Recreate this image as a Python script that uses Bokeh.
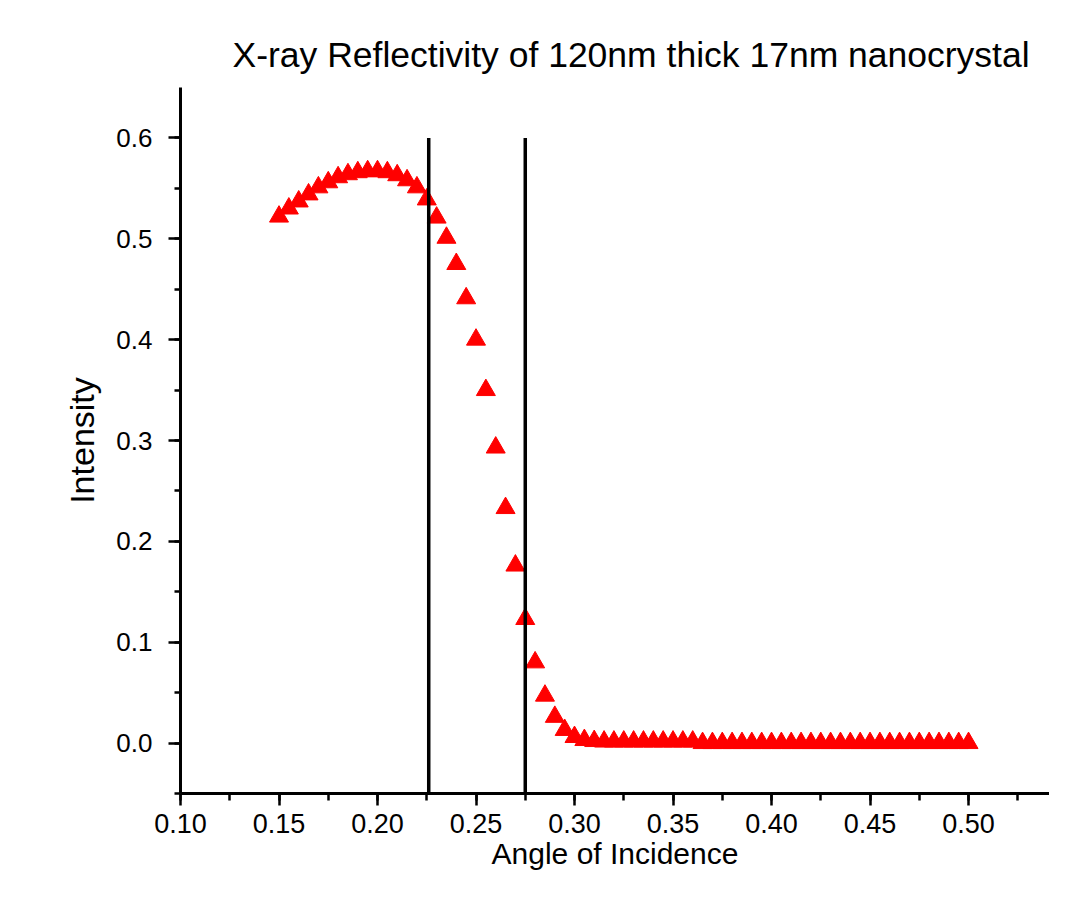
from bokeh.plotting import figure
from bokeh.models import SingleIntervalTicker, NumeralTickFormatter, ColumnDataSource
from bokeh.embed import file_html
from bokeh.resources import INLINE

title_text = "X-ray Reflectivity of 120nm thick 17nm nanocrystal"
x_label = "Angle of Incidence"
y_label = "Intensity"

angle = [
    0.150, 0.155, 0.160, 0.165, 0.170, 0.175, 0.180, 0.185, 0.190, 0.195,
    0.200, 0.205, 0.210, 0.215, 0.220, 0.225, 0.230, 0.235, 0.240, 0.245,
    0.250, 0.255, 0.260, 0.265, 0.270, 0.275, 0.280, 0.285, 0.290, 0.295,
    0.300, 0.305, 0.310, 0.315, 0.320, 0.325, 0.330, 0.335, 0.340, 0.345,
    0.350, 0.355, 0.360, 0.365, 0.370, 0.375, 0.380, 0.385, 0.390, 0.395,
    0.400, 0.405, 0.410, 0.415, 0.420, 0.425, 0.430, 0.435, 0.440, 0.445,
    0.450, 0.455, 0.460, 0.465, 0.470, 0.475, 0.480, 0.485, 0.490, 0.495,
    0.500,
]
intensity = [
    0.522, 0.530, 0.537, 0.544, 0.551, 0.556, 0.561, 0.564, 0.566, 0.567,
    0.567, 0.566, 0.563, 0.558, 0.551, 0.539, 0.521, 0.501, 0.475, 0.441,
    0.400, 0.350, 0.293, 0.233, 0.176, 0.123, 0.080, 0.047, 0.026, 0.013,
    0.006, 0.003, 0.002, 0.0015, 0.0015, 0.0015, 0.0015, 0.0015, 0.0015, 0.0015,
    0.0015, 0.0015, 0.0015, 0.0, 0.0, 0.0, 0.0, 0.0, 0.0, 0.0,
    0.0, 0.0, 0.0, 0.0, 0.0, 0.0, 0.0, 0.0, 0.0, 0.0,
    0.0, 0.0, 0.0, 0.0, 0.0, 0.0, 0.0, 0.0, 0.0, 0.0,
    0.0,
]
boundary_x = [0.226, 0.275]
boundary_top = [0.6, 0.6]
boundary_bottom = [-0.05, -0.05]

FONT = "Liberation Sans"

p = figure(
    width=1049, height=881,
    x_range=(0.1, 0.5411), y_range=(-0.05, 0.65),
    output_backend="svg", toolbar_location=None,
    min_border_left=180, min_border_right=0,
    min_border_top=87, min_border_bottom=88,
    title=title_text,
)
p.outline_line_color = None
p.grid.visible = False
p.background_fill_color = "white"
p.border_fill_color = "white"

p.title.text_font = FONT
p.title.text_font_size = "35.5px"
p.title.text_font_style = "normal"
p.title.text_color = "black"
p.title.align = "left"
p.title.offset = 52
p.title.standoff = 26

src = ColumnDataSource(dict(x=angle, y=intensity))
p.scatter("x", "y", source=src, marker="triangle", size=19,
          fill_color="#ff0000", line_color="#ff0000", line_width=1)

lines = ColumnDataSource(dict(x=boundary_x, y0=boundary_bottom, y1=boundary_top))
p.segment(x0="x", y0="y0", x1="x", y1="y1", source=lines,
          line_color="black", line_width=3.5)

xa = p.xaxis[0]
ya = p.yaxis[0]
xa.ticker = SingleIntervalTicker(interval=0.05, num_minor_ticks=2)
ya.ticker = SingleIntervalTicker(interval=0.1, num_minor_ticks=2)
xa.formatter = NumeralTickFormatter(format="0.00")
ya.formatter = NumeralTickFormatter(format="0.0")

for ax in (xa, ya):
    ax.axis_line_width = 3
    ax.axis_line_color = "black"
    ax.major_tick_line_width = 2.5
    ax.minor_tick_line_width = 2.5
    ax.major_tick_line_color = "black"
    ax.minor_tick_line_color = "black"
    ax.major_tick_in = 0
    ax.minor_tick_in = 0
    ax.major_label_text_font = FONT
    ax.major_label_text_color = "black"
    ax.axis_label_text_font = FONT
    ax.axis_label_text_font_style = "normal"
    ax.axis_label_text_color = "black"

xa.axis_label = x_label
xa.major_tick_out = 12
xa.minor_tick_out = 7
xa.major_label_text_font_size = "27px"
xa.major_label_standoff = 8
xa.axis_label_text_font_size = "30px"
xa.axis_label_standoff = 1

ya.axis_label = y_label
ya.major_tick_out = 12
ya.minor_tick_out = 6
ya.major_label_text_font_size = "26px"
ya.major_label_standoff = 16
ya.axis_label_text_font_size = "34px"
ya.axis_label_standoff = 12

open("out.html", "w").write(file_html(p, INLINE))
